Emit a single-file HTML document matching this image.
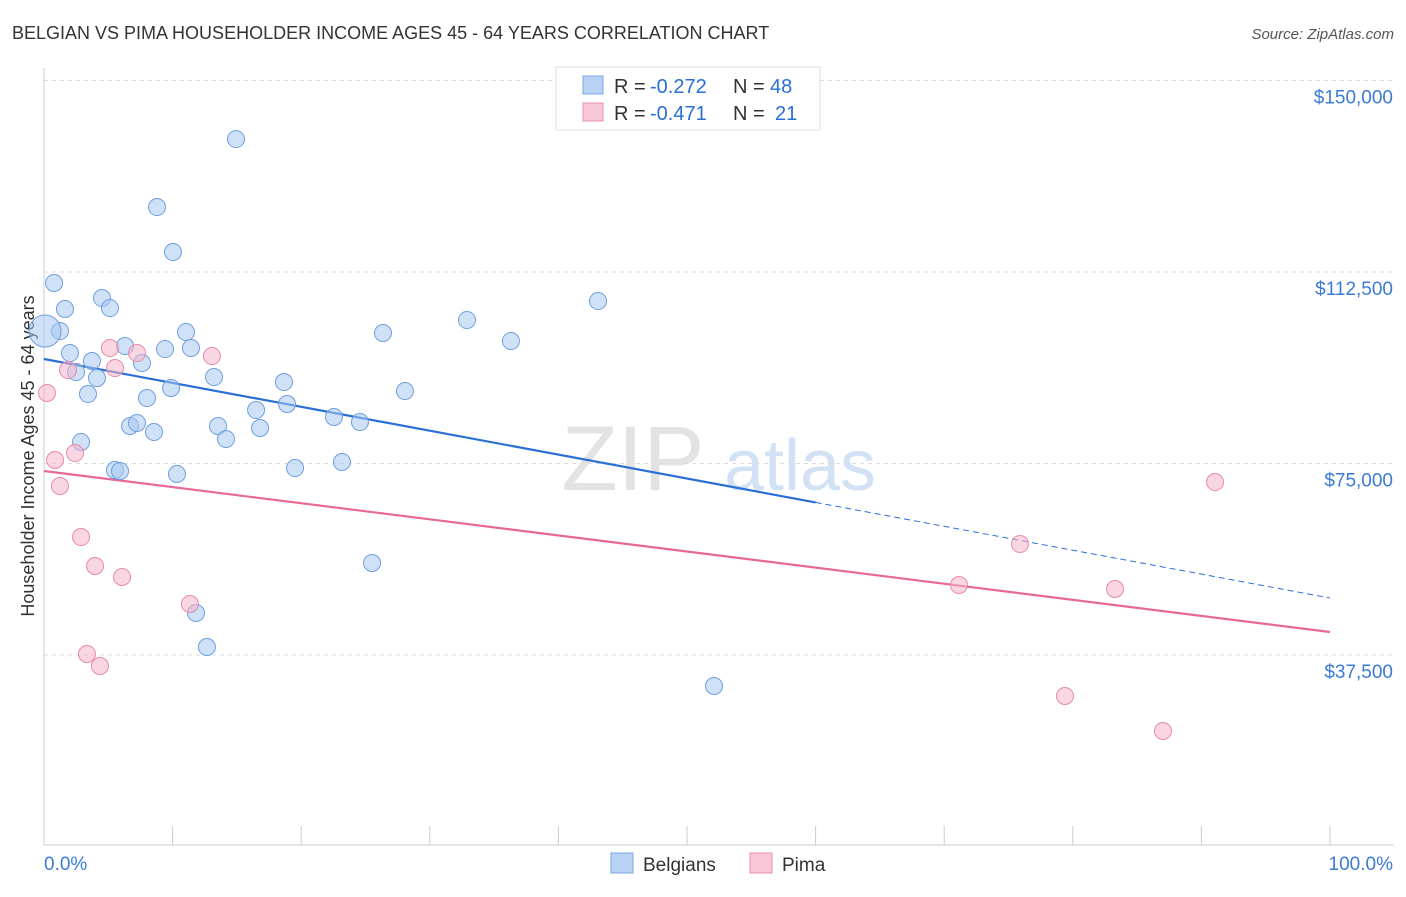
<!DOCTYPE html>
<html><head><meta charset="utf-8"><style>
body{margin:0;background:#fff;font-family:"Liberation Sans",sans-serif}
svg text{font-family:"Liberation Sans",sans-serif}
</style></head><body>
<svg id="chart" width="1406" height="892" xmlns="http://www.w3.org/2000/svg">
<text x="12" y="39" font-size="18" fill="#333">BELGIAN VS PIMA HOUSEHOLDER INCOME AGES 45 - 64 YEARS CORRELATION CHART</text>
<text x="1394" y="39" font-size="15" fill="#555" text-anchor="end" font-style="italic">Source: ZipAtlas.com</text>
<g>
<text x="633" y="490" font-size="92" fill="#ddd" font-family="Liberation Serif" text-anchor="middle" opacity="0.8">ZIP</text>
<text x="800" y="490" font-size="72" fill="#c8dcf2" text-anchor="middle" opacity="0.8">atlas</text>
</g>
<g id="grid"></g>
<g id="axes"></g>
<text x="34" y="456" font-size="18" fill="#333" text-anchor="middle" transform="rotate(-90 34 456)">Householder Income Ages 45 - 64 years</text>
<g id="lines"></g>
<g id="pts"></g>
<g>
<rect x="556" y="67" width="264" height="63" fill="#fff" stroke="#ddd"/>
<rect x="583" y="76" width="20" height="18" fill="#b8d2f4" stroke="#7aa6e0"/>
<text x="614" y="93" font-size="20" fill="#333">R =</text>
<text x="650" y="93" font-size="20" fill="#2a6fd6">-0.272</text>
<text x="733" y="93" font-size="20" fill="#333">N =</text>
<text x="770" y="93" font-size="20" fill="#2a6fd6">48</text>
<rect x="583" y="103" width="20" height="18" fill="#f8c8d8" stroke="#e890b0"/>
<text x="614" y="120" font-size="20" fill="#333">R =</text>
<text x="650" y="120" font-size="20" fill="#2a6fd6">-0.471</text>
<text x="733" y="120" font-size="20" fill="#333">N =</text>
<text x="775" y="120" font-size="20" fill="#2a6fd6">21</text>
</g>
<g>
<rect x="611" y="853" width="22" height="20" fill="#b8d2f4" stroke="#7aa6e0"/>
<text x="643" y="871" font-size="19" fill="#333">Belgians</text>
<rect x="750" y="853" width="22" height="20" fill="#f8c8d8" stroke="#e890b0"/>
<text x="782" y="871" font-size="19" fill="#333">Pima</text>
</g>
</svg>
<script>
const yTicks=[37500,75000,112500,150000];
const yTickLabels=["$37,500","$75,000","$112,500","$150,000"];
const xTickLabels=["0.0%","100.0%"];
const belgX=[0.78,1.63,1.24,0.08,2.02,2.49,3.42,3.73,4.12,4.51,5.13,6.30,2.88,5.52,5.91,6.69,7.23,7.62,8.01,8.55,8.79,9.41,9.88,10.03,10.34,11.04,11.43,11.82,12.67,13.22,13.53,14.15,14.93,16.49,16.80,18.66,18.90,19.52,22.55,23.17,24.57,25.51,26.36,28.07,32.89,36.31,43.08,52.10];
const belgY=[110340,105250,100940,100940,96630,92910,88600,95070,91740,107400,105440,98000,79210,73720,73530,82340,82930,94670,87820,81160,125220,97410,89780,116410,72940,100740,97610,45720,39070,91930,82340,79790,138530,85470,81950,90950,86650,74110,84100,75290,83120,55510,100550,89190,103090,98980,106810,31430];
const pimaX=[0.23,0.86,1.24,1.87,2.41,2.88,3.34,3.97,4.35,5.13,5.52,6.07,7.23,11.35,13.06,71.15,75.89,79.39,83.28,87.01,91.06];
const pimaY=[88800,75680,70590,93300,77050,60600,37700,54930,35350,97610,93690,52770,96630,47490,96040,51210,59230,29470,50420,22620,71370];
const belgTrend=[95460,48660];
const belgSolidEnd=60;
const pimaTrend=[73530,42000];
const NS="http://www.w3.org/2000/svg";
const X=p=>44+p/100*1286;
const Y=v=>655-(v-37500)/37500*191.5;
function mk(t,a,parent){const e=document.createElementNS(NS,t);for(const k in a)e.setAttribute(k,a[k]);parent.appendChild(e);return e;}
const grid=document.getElementById('grid'),axes=document.getElementById('axes'),lines=document.getElementById('lines'),pts=document.getElementById('pts');
yTicks.forEach((v,i)=>{
 const l=mk('line',{x1:44,x2:1394,y1:Y(v),y2:Y(v),stroke:'#ddd','stroke-dasharray':'4,4'},grid);
 
 
 const t=mk('text',{x:1393,y:Y(v)+23,'font-size':19,fill:'#3b7ad8','text-anchor':'end'},axes);
 t.textContent=yTickLabels[i];
 
 
});
mk('line',{x1:44,x2:1394,y1:845,y2:845,stroke:'#ccc'},axes);
mk('line',{x1:44,x2:44,y1:68,y2:845,stroke:'#ccc'},axes);
for(let i=0;i<=10;i++){mk('line',{x1:X(i*10),x2:X(i*10),y1:826,y2:845,stroke:'#ccc'},axes);}
const xl0=mk('text',{x:44,y:870,'font-size':19,fill:'#3b7ad8'},axes);xl0.textContent=xTickLabels[0];


const xl1=mk('text',{x:1393,y:870,'font-size':19,fill:'#3b7ad8','text-anchor':'end'},axes);xl1.textContent=xTickLabels[1];


function dot(x,y,r,fill,stroke,name){const c=mk('circle',{cx:X(x),cy:Y(y),r:r,fill:fill,'fill-opacity':0.55,stroke:stroke,'stroke-width':1},pts);
 
 }
belgX.forEach((x,i)=>dot(x,belgY[i],i===3?16:8.5,'#a8c8f0','#6f9fe0','belgian-point'));
pimaX.forEach((x,i)=>dot(x,pimaY[i],8.5,'#f6b4ca','#e88aac','pima-point'));
const bv=p=>belgTrend[0]+(belgTrend[1]-belgTrend[0])*p/100;
const b1=mk('line',{x1:X(0),y1:Y(bv(0)),x2:X(belgSolidEnd),y2:Y(bv(belgSolidEnd)),stroke:'#2a6fd6','stroke-width':2.2},lines);


const b2=mk('line',{x1:X(belgSolidEnd),y1:Y(bv(belgSolidEnd)),x2:X(100),y2:Y(bv(100)),stroke:'#2a6fd6','stroke-width':1,'stroke-dasharray':'6,4'},lines);


const p1=mk('line',{x1:X(0),y1:Y(pimaTrend[0]),x2:X(100),y2:Y(pimaTrend[1]),stroke:'#e8689a','stroke-width':2.2},lines);


</script>
</body></html>
